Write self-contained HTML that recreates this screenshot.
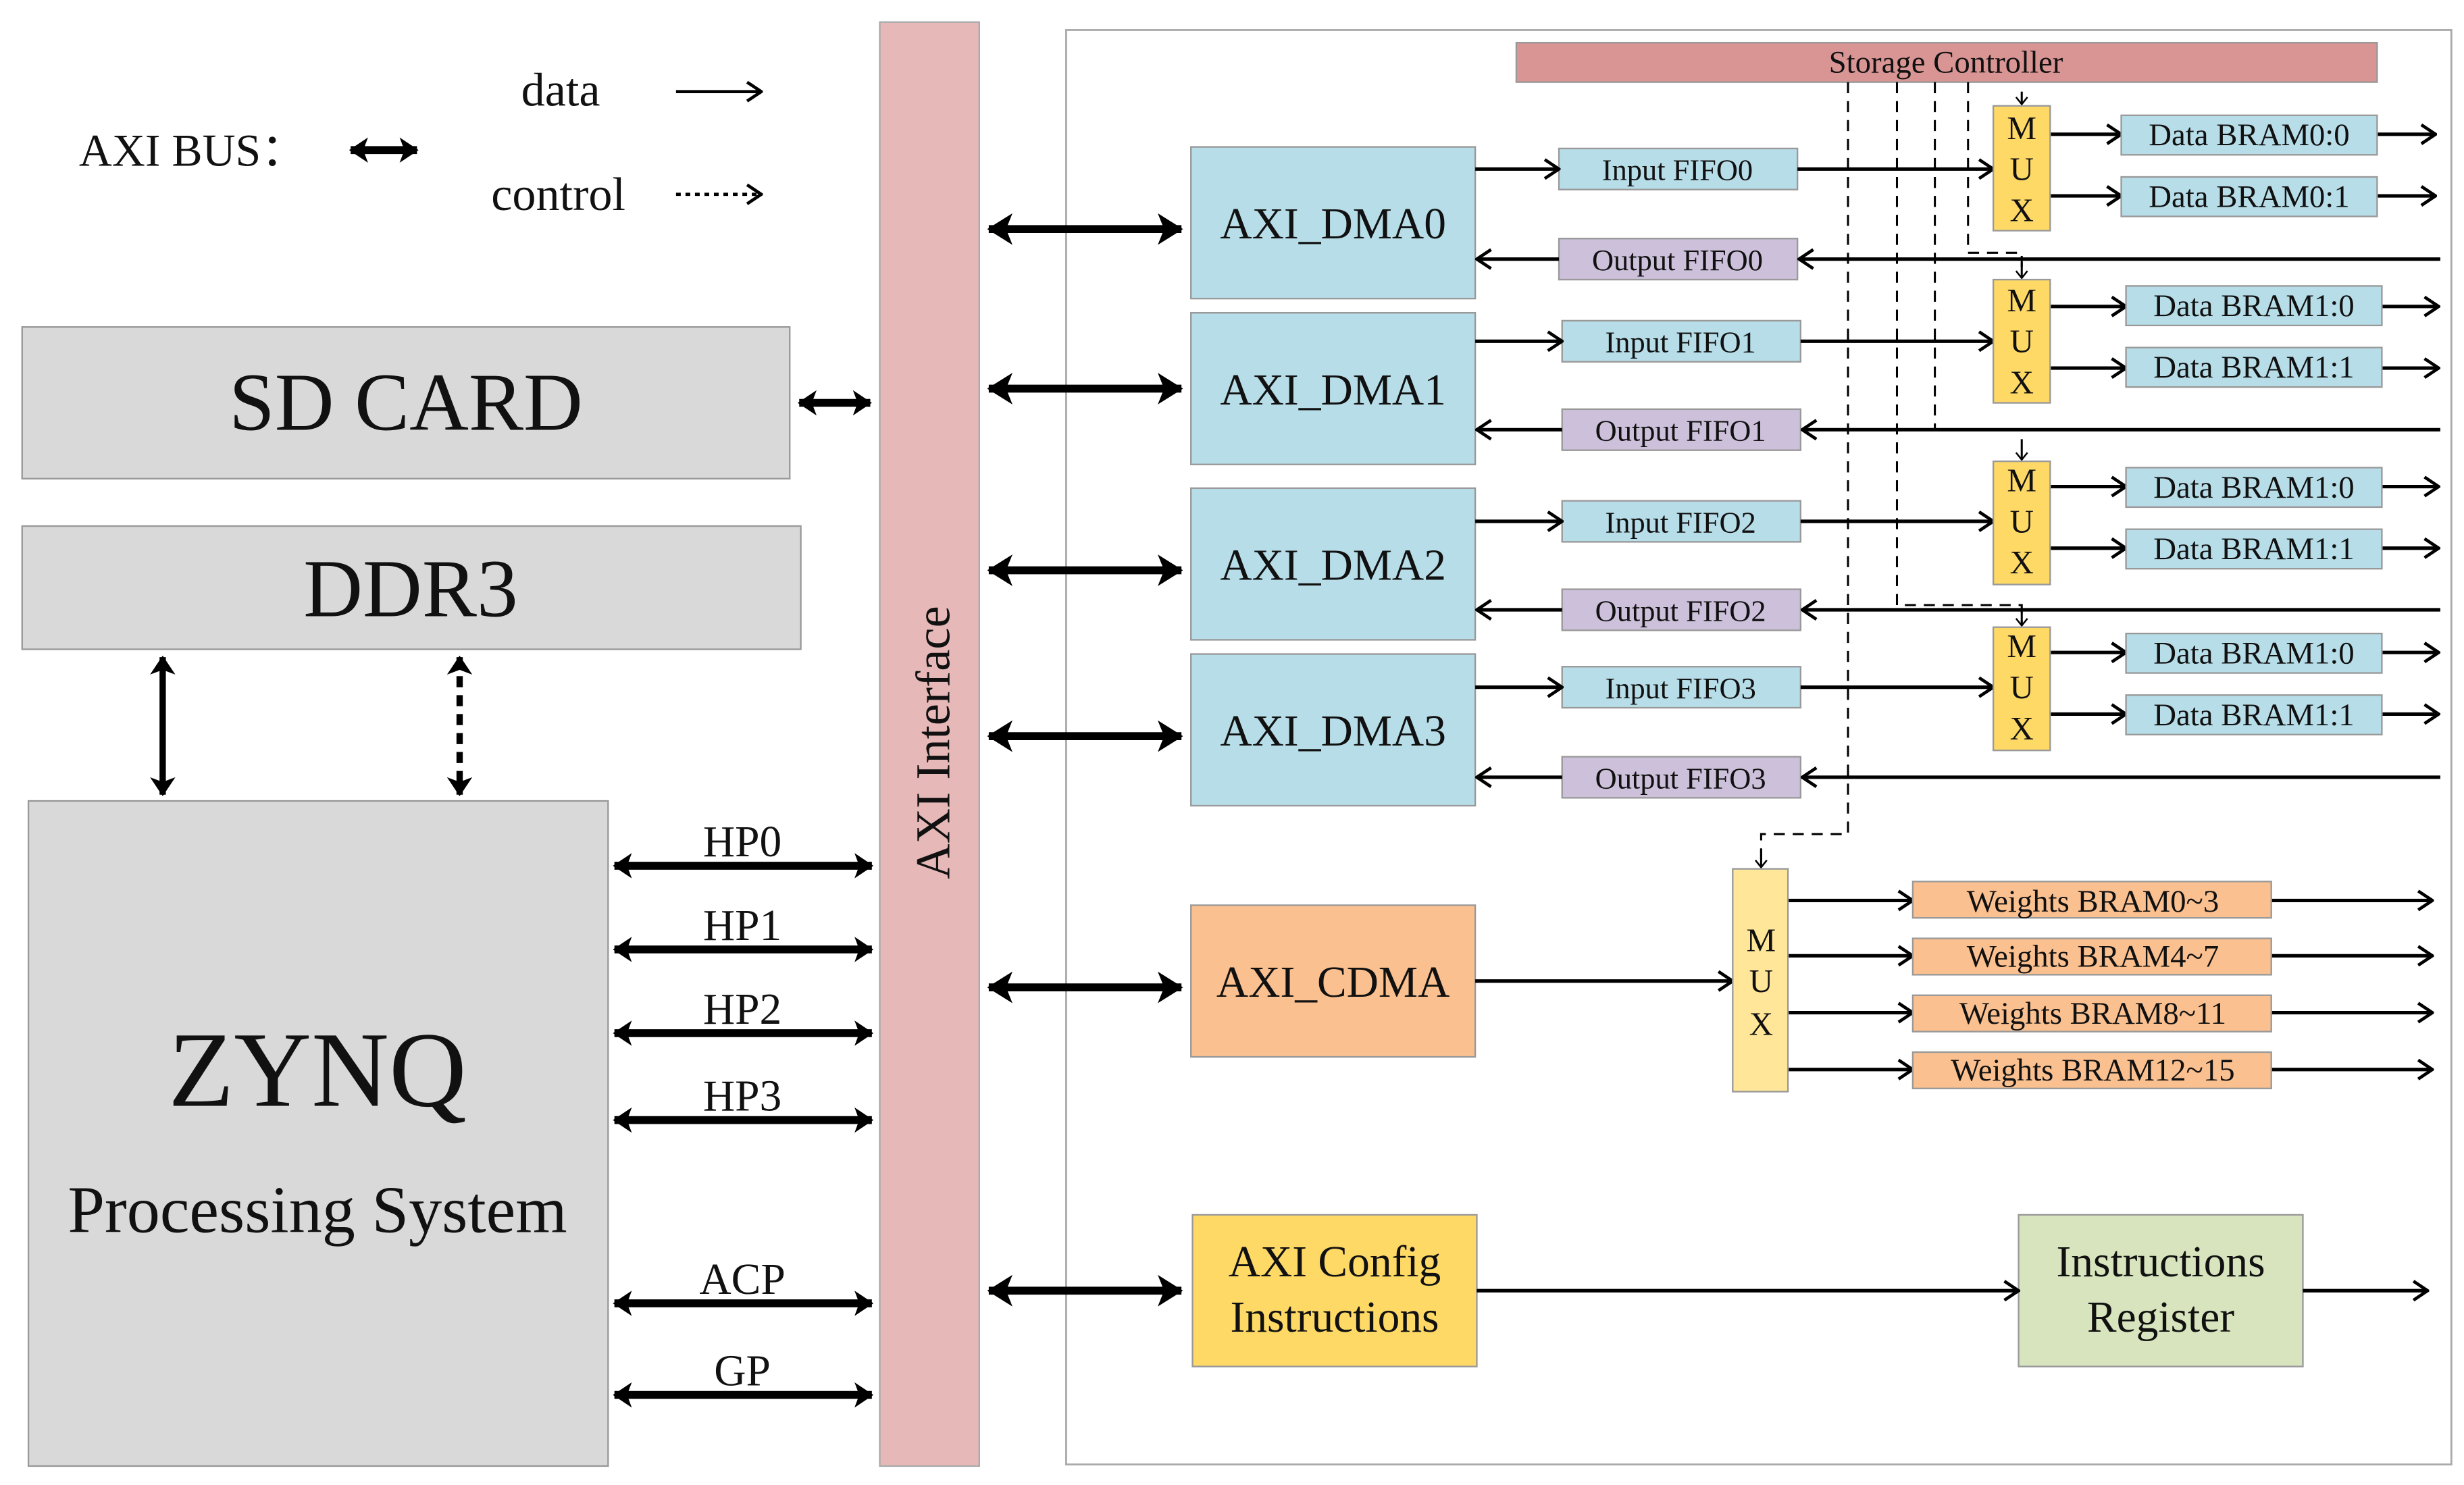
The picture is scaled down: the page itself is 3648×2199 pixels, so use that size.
<!DOCTYPE html>
<html><head><meta charset="utf-8"><style>
html,body{margin:0;padding:0;background:#fff;}
svg{display:block;}
text{font-family:"Liberation Serif",serif;fill:#111;}
</style></head><body>
<svg width="3648" height="2199" viewBox="0 0 1560 940" preserveAspectRatio="none" xmlns="http://www.w3.org/2000/svg">
<defs>
<marker id="o" viewBox="0 0 12 14" markerWidth="12" markerHeight="14" refX="11" refY="7" orient="auto" markerUnits="userSpaceOnUse"><path d="M2,1 L11,7 L2,13" fill="none" stroke="#000" stroke-width="2"/></marker>
<marker id="os" viewBox="0 0 10 10" markerWidth="9" markerHeight="9" refX="5" refY="9" orient="0" markerUnits="userSpaceOnUse"><path d="M1,4 L5,9 L9,4" fill="none" stroke="#000" stroke-width="1.2"/></marker>
<marker id="f" viewBox="0 0 16 20" markerWidth="16" markerHeight="20" refX="15" refY="10" orient="auto-start-reverse" markerUnits="userSpaceOnUse"><path d="M0,0 L16,10 L0,20 L4,10 Z" fill="#000"/></marker>
<marker id="fs" viewBox="0 0 12 16" markerWidth="12" markerHeight="16" refX="11" refY="8" orient="auto-start-reverse" markerUnits="userSpaceOnUse"><path d="M0,0 L12,8 L0,16 L3,8 Z" fill="#000"/></marker>
</defs>

<!-- legend -->
<text x="50" y="105" font-size="29">AXI BUS：</text>
<line x1="222" y1="95" x2="264" y2="95" stroke="#000" stroke-width="5" marker-start="url(#fs)" marker-end="url(#fs)"/>
<text x="330" y="67" font-size="30">data</text>
<line x1="428" y1="58" x2="482" y2="58" stroke="#000" stroke-width="2" marker-end="url(#o)"/>
<text x="311" y="133" font-size="30">control</text>
<line x1="428" y1="123" x2="482" y2="123" stroke="#000" stroke-width="2" stroke-dasharray="3,3" marker-end="url(#o)"/>

<!-- left blocks -->
<rect x="14" y="207" width="486" height="96" fill="#d9d9d9" stroke="#999" stroke-width="1"/>
<text x="257" y="272" font-size="52" text-anchor="middle">SD CARD</text>
<line x1="506" y1="255" x2="551" y2="255" stroke="#000" stroke-width="5" marker-start="url(#fs)" marker-end="url(#fs)"/>
<rect x="14" y="333" width="493" height="78" fill="#d9d9d9" stroke="#999" stroke-width="1"/>
<text x="260" y="390" font-size="52" text-anchor="middle">DDR3</text>
<line x1="103" y1="416" x2="103" y2="503" stroke="#000" stroke-width="4" marker-start="url(#fs)" marker-end="url(#fs)"/>
<line x1="291" y1="416" x2="291" y2="503" stroke="#000" stroke-width="4" stroke-dasharray="7,5" marker-start="url(#fs)" marker-end="url(#fs)"/>
<rect x="18" y="507" width="367" height="421" fill="#d9d9d9" stroke="#999" stroke-width="1"/>
<text x="201" y="700" font-size="68" text-anchor="middle">ZYNQ</text>
<text x="201" y="780" font-size="42" text-anchor="middle">Processing System</text>

<g stroke="#000" stroke-width="5">
<line x1="389" y1="548" x2="552" y2="548" marker-start="url(#fs)" marker-end="url(#fs)"/>
<line x1="389" y1="601" x2="552" y2="601" marker-start="url(#fs)" marker-end="url(#fs)"/>
<line x1="389" y1="654" x2="552" y2="654" marker-start="url(#fs)" marker-end="url(#fs)"/>
<line x1="389" y1="709" x2="552" y2="709" marker-start="url(#fs)" marker-end="url(#fs)"/>
<line x1="389" y1="825" x2="552" y2="825" marker-start="url(#fs)" marker-end="url(#fs)"/>
<line x1="389" y1="883" x2="552" y2="883" marker-start="url(#fs)" marker-end="url(#fs)"/>
</g>
<g font-size="28" text-anchor="middle">
<text x="470" y="542">HP0</text><text x="470" y="595">HP1</text><text x="470" y="648">HP2</text>
<text x="470" y="703">HP3</text><text x="470" y="819">ACP</text><text x="470" y="877">GP</text>
</g>

<!-- AXI interface -->
<rect x="557" y="14" width="63" height="914" fill="#e6b9b8" stroke="#aaa" stroke-width="1"/>
<text transform="translate(601,470) rotate(-90)" font-size="31" text-anchor="middle">AXI Interface</text>

<!-- panel -->
<rect x="675" y="19" width="877" height="908" fill="none" stroke="#aaa" stroke-width="1.2"/>

<!-- AXI arrows to DMAs -->
<g stroke="#000" stroke-width="5">
<line x1="626" y1="145" x2="748" y2="145" marker-start="url(#f)" marker-end="url(#f)"/>
<line x1="626" y1="246" x2="748" y2="246" marker-start="url(#f)" marker-end="url(#f)"/>
<line x1="626" y1="361" x2="748" y2="361" marker-start="url(#f)" marker-end="url(#f)"/>
<line x1="626" y1="466" x2="748" y2="466" marker-start="url(#f)" marker-end="url(#f)"/>
<line x1="626" y1="625" x2="748" y2="625" marker-start="url(#f)" marker-end="url(#f)"/>
<line x1="626" y1="817" x2="748" y2="817" marker-start="url(#f)" marker-end="url(#f)"/>
</g>

<!-- DMA boxes -->
<g stroke="#999" stroke-width="1" fill="#b7dde8">
<rect x="754" y="93" width="180" height="96"/>
<rect x="754" y="198" width="180" height="96"/>
<rect x="754" y="309" width="180" height="96"/>
<rect x="754" y="414" width="180" height="96"/>
</g>
<rect x="754" y="573" width="180" height="96" fill="#fac090" stroke="#999" stroke-width="1"/>
<rect x="755" y="769" width="180" height="96" fill="#ffd966" stroke="#999" stroke-width="1"/>
<rect x="1278" y="769" width="180" height="96" fill="#d7e4bd" stroke="#999" stroke-width="1"/>
<g font-size="28" text-anchor="middle">
<text x="844" y="151">AXI_DMA0</text><text x="844" y="256">AXI_DMA1</text>
<text x="844" y="367">AXI_DMA2</text><text x="844" y="472">AXI_DMA3</text>
<text x="844" y="631">AXI_CDMA</text>
<text x="845" y="808">AXI Config</text><text x="845" y="843">Instructions</text>
<text x="1368" y="808">Instructions</text><text x="1368" y="843">Register</text>
</g>

<!-- Storage controller -->
<rect x="960" y="27" width="545" height="25" fill="#d99594" stroke="#999" stroke-width="1"/>
<text x="1232" y="46" font-size="20" text-anchor="middle">Storage Controller</text>

<!-- dashed control lines -->
<g fill="none" stroke="#000" stroke-width="1.3" stroke-dasharray="7,5">
<polyline points="1170,52 1170,528 1115,528 1115,548"/>
<polyline points="1201,52 1201,383 1280,383 1280,395"/>
<polyline points="1225,52 1225,272"/>
<polyline points="1246,52 1246,160 1280,160 1280,175"/>
</g>
<g stroke="#000" stroke-width="1.3">
<line x1="1280" y1="58" x2="1280" y2="66" marker-end="url(#os)"/>
<line x1="1280" y1="278" x2="1280" y2="291" marker-end="url(#os)"/>
<line x1="1280" y1="385" x2="1280" y2="396" marker-end="url(#os)"/>
<line x1="1280" y1="166" x2="1280" y2="176" marker-end="url(#os)"/>
<line x1="1115" y1="538" x2="1115" y2="549" marker-end="url(#os)"/>
</g>

<!-- FIFO boxes -->
<g stroke="#999" stroke-width="1">
<rect x="987" y="94" width="151" height="26" fill="#b7dde8"/>
<rect x="987" y="151" width="151" height="26" fill="#ccc0da"/>
<rect x="989" y="203" width="151" height="26" fill="#b7dde8"/>
<rect x="989" y="259" width="151" height="26" fill="#ccc0da"/>
<rect x="989" y="317" width="151" height="26" fill="#b7dde8"/>
<rect x="989" y="373" width="151" height="26" fill="#ccc0da"/>
<rect x="989" y="422" width="151" height="26" fill="#b7dde8"/>
<rect x="989" y="479" width="151" height="26" fill="#ccc0da"/>
</g>
<g font-size="19" text-anchor="middle">
<text x="1062" y="114">Input FIFO0</text><text x="1062" y="171">Output FIFO0</text>
<text x="1064" y="223">Input FIFO1</text><text x="1064" y="279">Output FIFO1</text>
<text x="1064" y="337">Input FIFO2</text><text x="1064" y="393">Output FIFO2</text>
<text x="1064" y="442">Input FIFO3</text><text x="1064" y="499">Output FIFO3</text>
</g>

<!-- data arrows -->
<g stroke="#000" stroke-width="2.2" marker-end="url(#o)">
<line x1="934" y1="107" x2="987" y2="107"/>
<line x1="987" y1="164" x2="935" y2="164"/>
<line x1="1545" y1="164" x2="1139" y2="164"/>
<line x1="1138" y1="107" x2="1262" y2="107"/>
<line x1="934" y1="216" x2="989" y2="216"/>
<line x1="989" y1="272" x2="935" y2="272"/>
<line x1="1545" y1="272" x2="1141" y2="272"/>
<line x1="1140" y1="216" x2="1262" y2="216"/>
<line x1="934" y1="330" x2="989" y2="330"/>
<line x1="989" y1="386" x2="935" y2="386"/>
<line x1="1545" y1="386" x2="1141" y2="386"/>
<line x1="1140" y1="330" x2="1262" y2="330"/>
<line x1="934" y1="435" x2="989" y2="435"/>
<line x1="989" y1="492" x2="935" y2="492"/>
<line x1="1545" y1="492" x2="1141" y2="492"/>
<line x1="1140" y1="435" x2="1262" y2="435"/>
<!-- mux outs -->
<line x1="1298" y1="85" x2="1343" y2="85"/><line x1="1505" y1="85" x2="1542" y2="85"/>
<line x1="1298" y1="124" x2="1343" y2="124"/><line x1="1505" y1="124" x2="1542" y2="124"/>
<line x1="1298" y1="194" x2="1346" y2="194"/><line x1="1508" y1="194" x2="1544" y2="194"/>
<line x1="1298" y1="233" x2="1346" y2="233"/><line x1="1508" y1="233" x2="1544" y2="233"/>
<line x1="1298" y1="308" x2="1346" y2="308"/><line x1="1508" y1="308" x2="1544" y2="308"/>
<line x1="1298" y1="347" x2="1346" y2="347"/><line x1="1508" y1="347" x2="1544" y2="347"/>
<line x1="1298" y1="413" x2="1346" y2="413"/><line x1="1508" y1="413" x2="1544" y2="413"/>
<line x1="1298" y1="452" x2="1346" y2="452"/><line x1="1508" y1="452" x2="1544" y2="452"/>
<!-- cdma -->
<line x1="934" y1="621" x2="1097" y2="621"/>
<line x1="1132" y1="570" x2="1211" y2="570"/><line x1="1438" y1="570" x2="1540" y2="570"/>
<line x1="1132" y1="605" x2="1211" y2="605"/><line x1="1438" y1="605" x2="1540" y2="605"/>
<line x1="1132" y1="641" x2="1211" y2="641"/><line x1="1438" y1="641" x2="1540" y2="641"/>
<line x1="1132" y1="677" x2="1211" y2="677"/><line x1="1438" y1="677" x2="1540" y2="677"/>
<line x1="935" y1="817" x2="1278" y2="817"/>
<line x1="1458" y1="817" x2="1537" y2="817"/>
</g>

<!-- MUX boxes -->
<g fill="#ffd966" stroke="#999" stroke-width="1">
<rect x="1262" y="67" width="36" height="79"/>
<rect x="1262" y="177" width="36" height="78"/>
<rect x="1262" y="292" width="36" height="78"/>
<rect x="1262" y="397" width="36" height="78"/>
<rect x="1097" y="550" width="35" height="141" fill="#ffe699"/>
</g>
<g font-size="21" text-anchor="middle">
<text x="1280" y="88">M</text><text x="1280" y="114">U</text><text x="1280" y="140">X</text>
<text x="1280" y="197">M</text><text x="1280" y="223">U</text><text x="1280" y="249">X</text>
<text x="1280" y="311">M</text><text x="1280" y="337">U</text><text x="1280" y="363">X</text>
<text x="1280" y="416">M</text><text x="1280" y="442">U</text><text x="1280" y="468">X</text>
<text x="1115" y="602">M</text><text x="1115" y="628">U</text><text x="1115" y="655">X</text>
</g>

<!-- Data BRAMs -->
<g fill="#b7dde8" stroke="#999" stroke-width="1">
<rect x="1343" y="73" width="162" height="25"/><rect x="1343" y="112" width="162" height="25"/>
<rect x="1346" y="181" width="162" height="25"/><rect x="1346" y="220" width="162" height="25"/>
<rect x="1346" y="296" width="162" height="25"/><rect x="1346" y="335" width="162" height="25"/>
<rect x="1346" y="401" width="162" height="25"/><rect x="1346" y="440" width="162" height="25"/>
</g>
<g font-size="20" text-anchor="middle">
<text x="1424" y="92">Data BRAM0:0</text><text x="1424" y="131">Data BRAM0:1</text>
<text x="1427" y="200">Data BRAM1:0</text><text x="1427" y="239">Data BRAM1:1</text>
<text x="1427" y="315">Data BRAM1:0</text><text x="1427" y="354">Data BRAM1:1</text>
<text x="1427" y="420">Data BRAM1:0</text><text x="1427" y="459">Data BRAM1:1</text>
</g>

<!-- Weights BRAMs -->
<g fill="#fac090" stroke="#999" stroke-width="1">
<rect x="1211" y="558" width="227" height="23"/><rect x="1211" y="594" width="227" height="23"/>
<rect x="1211" y="630" width="227" height="23"/><rect x="1211" y="666" width="227" height="23"/>
</g>
<g font-size="20" text-anchor="middle">
<text x="1325" y="577">Weights BRAM0~3</text><text x="1325" y="612">Weights BRAM4~7</text>
<text x="1325" y="648">Weights BRAM8~11</text><text x="1325" y="684">Weights BRAM12~15</text>
</g>
</svg>
</body></html>
